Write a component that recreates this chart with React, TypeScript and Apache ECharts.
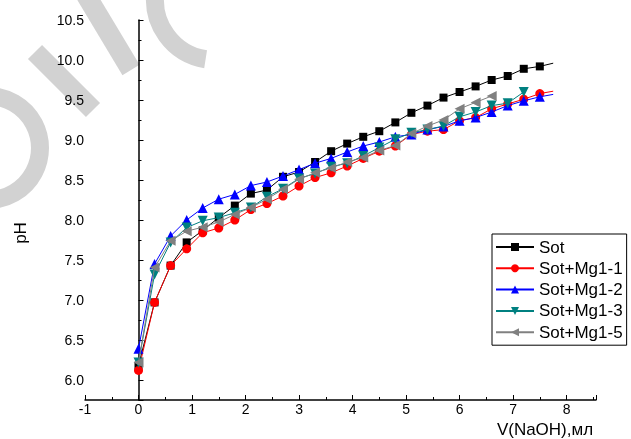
import React, { useEffect, useRef } from "react";
import * as echarts from "echarts";

const FONT = "'Liberation Sans', Arial, sans-serif";

const xFull = [0, 0.3, 0.6, 0.9, 1.2, 1.5, 1.8, 2.1, 2.4, 2.7, 3.0, 3.3, 3.6, 3.9, 4.2, 4.5, 4.8, 5.1, 5.4, 5.7, 6.0, 6.3, 6.6, 6.9, 7.2, 7.5];
const tailX = 7.75;

const sot = [6.18, 6.97, 7.43, 7.72, 7.87, 8.03, 8.18, 8.33, 8.375, 8.54, 8.6, 8.725, 8.86, 8.955, 9.04, 9.11, 9.22, 9.34, 9.43, 9.53, 9.6, 9.67, 9.75, 9.8, 9.89, 9.92];
const sotTail = 9.96;
const mg11 = [6.12, 6.97, 7.43, 7.64, 7.84, 7.9, 8.0, 8.13, 8.205, 8.3, 8.425, 8.53, 8.59, 8.675, 8.77, 8.86, 8.925, 9.07, 9.11, 9.13, 9.24, 9.28, 9.39, 9.45, 9.51, 9.58];
const mg11Tail = 9.61;
const mg12 = [6.39, 7.45, 7.8, 8.0, 8.15, 8.26, 8.32, 8.43, 8.475, 8.55, 8.63, 8.71, 8.77, 8.85, 8.925, 8.975, 9.04, 9.07, 9.13, 9.17, 9.24, 9.28, 9.35, 9.43, 9.49, 9.54];
const mg12Tail = 9.57;
const mg13 = [6.22, 7.32, 7.72, 7.905, 7.99, 8.03, 8.09, 8.155, 8.29, 8.39, 8.52, 8.58, 8.665, 8.71, 8.8, 8.905, 9.01, 9.09, 9.13, 9.175, 9.29, 9.35, 9.43, 9.46, 9.6];
const mg15 = [6.22, 7.405, 7.74, 7.86, 7.91, 7.975, 8.07, 8.155, 8.26, 8.385, 8.51, 8.59, 8.65, 8.725, 8.78, 8.87, 8.93, 9.08, 9.175, 9.25, 9.39, 9.47, 9.55];

const seriesNames = ["Sot", "Sot+Mg1-1", "Sot+Mg1-2", "Sot+Mg1-3", "Sot+Mg1-5"];
const seriesColors = ["#000000", "#ff0000", "#0000ff", "#008080", "#808080"];
const xAxisTitle = "V(NaOH),мл";
const yAxisTitle = "pH";

function pairs(ys: number[], tail?: number) {
  const d: any[] = ys.map((y, i) => [xFull[i], y]);
  if (tail !== undefined) d.push({ value: [tailX, tail], symbol: "none" });
  return d;
}

export default function App() {
  const ref = useRef<HTMLDivElement>(null);
  useEffect(() => {
    const chart = echarts.init(ref.current!, null, { renderer: "svg" });
    const mk = (i: number, data: any[], symbol: string, size: number, rot = 0) => ({
      type: "line",
      name: seriesNames[i],
      data,
      symbol,
      symbolSize: size,
      symbolRotate: rot,
      color: seriesColors[i],
      lineStyle: { width: 1, color: seriesColors[i] },
      itemStyle: { color: seriesColors[i] },
      z: 2 + i,
    });
    const wm = "#d2d2d2";
    chart.setOption({
      animation: false,
      textStyle: { fontFamily: FONT },
      grid: { left: 85, top: 20, width: 511, height: 380 },
      xAxis: {
        type: "value",
        min: -1,
        max: 8.55,
        interval: 1,
        axisLine: { lineStyle: { color: "#000", width: 1.5 } },
        axisTick: { inside: true, length: 5, lineStyle: { color: "#000" } },
        minorTick: { show: true, splitNumber: 2, length: 3, lineStyle: { color: "#000" } },
        splitLine: { show: false },
        axisLabel: { color: "#000", fontSize: 14, margin: 2, showMaxLabel: false, fontFamily: FONT,
          formatter: (v: number) => (Number.isInteger(v) ? String(v) : "") },
      },
      yAxis: {
        type: "value",
        min: 5.75,
        max: 10.5,
        splitNumber: 10,
        axisLine: { show: true, lineStyle: { color: "#000", width: 1.5 } },
        axisTick: { show: true, inside: true, length: 5, lineStyle: { color: "#000" } },
        minorTick: { show: true, splitNumber: 2, length: 3, lineStyle: { color: "#000" } },
        splitLine: { show: false },
        axisLabel: { color: "#000", fontSize: 14, margin: 1, showMinLabel: false, fontFamily: FONT,
          formatter: (v: number) => v.toFixed(1) },
      },
      legend: {
        orient: "vertical",
        left: 492,
        top: 234,
        padding: [4, 4, 4, 3],
        itemGap: 3.3,
        itemWidth: 38,
        itemHeight: 10,
        borderColor: "#000",
        borderWidth: 1,
        textStyle: { fontSize: 17, color: "#000", fontFamily: FONT, lineHeight: 18 },
        data: seriesNames,
      },
      graphic: [
        { type: "circle", z: -1, shape: { cx: -12, cy: 148, r: 52 }, style: { fill: "none", stroke: wm, lineWidth: 18 } },
        { type: "line", z: -1, shape: { x1: 35, y1: 52, x2: 93, y2: 110 }, style: { stroke: wm, lineWidth: 20 } },
        { type: "line", z: -1, shape: { x1: 86, y1: -5, x2: 131, y2: 70 }, style: { stroke: wm, lineWidth: 20 } },
        { type: "arc", z: -1, shape: { cx: 215, cy: 0, r: 60, startAngle: Math.PI * 0.55, endAngle: Math.PI * 1.05, clockwise: true },
          style: { fill: "none", stroke: wm, lineWidth: 18 } },
        { type: "text", z: 10, x: 20, y: 233, rotation: Math.PI / 2,
          style: { text: yAxisTitle, fontSize: 17, fill: "#000", fontFamily: FONT, align: "center", verticalAlign: "middle" } },
        { type: "text", z: 10, x: 545, y: 429,
          style: { text: xAxisTitle, fontSize: 17, fill: "#000", fontFamily: FONT, align: "center", verticalAlign: "middle" } },
      ],
      series: [
        mk(0, pairs(sot, sotTail), "rect", 8),
        mk(1, pairs(mg11, mg11Tail), "circle", 9),
        mk(2, pairs(mg12, mg12Tail), "triangle", 10),
        mk(3, pairs(mg13), "triangle", 10, 180),
        mk(4, pairs(mg15), "triangle", 10, 90),
      ],
    });
    return () => chart.dispose();
  }, []);
  return <div ref={ref} style={{ position: "fixed", left: 0, top: 0, width: 631, height: 439 }} />;
}
